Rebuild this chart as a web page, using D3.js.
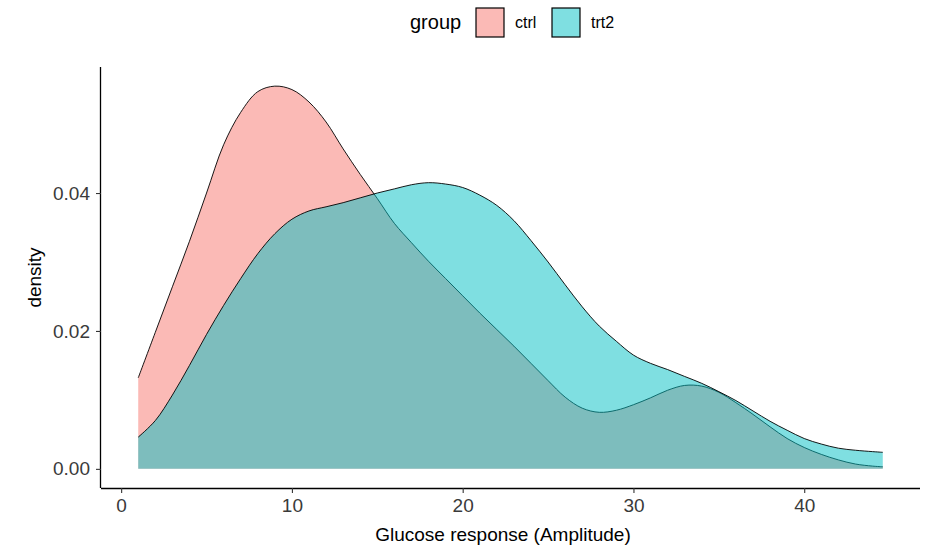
<!DOCTYPE html>
<html>
<head>
<meta charset="utf-8">
<script src="https://cdn.jsdelivr.net/npm/d3@7"></script>
<style>
  body { margin: 0; background: #fff; }
  text { font-family: "Liberation Sans", Arial, sans-serif; }
</style>
</head>
<body>
<div id="chart"></div>
<script>
// amplitude grid the densities were evaluated on
var amplitude = [1, 2, 3, 4, 5, 6, 7, 8, 9, 10, 11, 12, 13, 14, 15, 16, 17, 18, 19, 20, 21, 22,
  23, 24, 25, 26, 27, 28, 29, 30, 31, 32, 33, 34, 35, 36, 37, 38, 39, 40, 41, 42, 43, 44, 44.6]
var ctrlDensity = [0.0132, 0.0198, 0.0264, 0.0330, 0.0400, 0.0470, 0.0517, 0.0547, 0.0555, 0.0550,
  0.0532, 0.0503, 0.0464, 0.0427, 0.0392, 0.0356, 0.0328, 0.0301, 0.0276, 0.0251, 0.0226, 0.0202,
  0.0178, 0.0153, 0.0128, 0.0104, 0.0088, 0.0082, 0.0085, 0.0093, 0.0103, 0.0114, 0.0121, 0.0120,
  0.0111, 0.0096, 0.0079, 0.0061, 0.0044, 0.0031, 0.0021, 0.0013, 0.0007, 0.0004, 0.0003]
var trt2Density = [0.0046, 0.0070, 0.0107, 0.0150, 0.0195, 0.0237, 0.0276, 0.0312, 0.0341, 0.0362,
  0.0374, 0.0380, 0.0386, 0.0393, 0.0400, 0.0406, 0.0412, 0.0415, 0.0413, 0.0408, 0.0397, 0.0382,
  0.0360, 0.0331, 0.0300, 0.0267, 0.0235, 0.0207, 0.0185, 0.0165, 0.0153, 0.0144, 0.0134, 0.0124,
  0.0112, 0.0099, 0.0084, 0.0069, 0.0056, 0.0044, 0.0036, 0.0030, 0.0027, 0.0025, 0.0024]
var groups = ["ctrl", "trt2"]
var groupColors = ["#F8766D", "#00BFC4"]
var xTicks = [0, 10, 20, 30, 40]
var yTicks = [0, 0.02, 0.04]

var width = 935, height = 548
var panel = { left: 101, right: 920, top: 67, bottom: 488 }

var svg = d3.select("#chart").append("svg")
  .attr("width", width).attr("height", height)

var series = [ctrlDensity, trt2Density].map(function (vals, i) {
  return {
    name: groups[i],
    color: groupColors[i],
    points: amplitude.map(function (a, j) { return { x: a, y: vals[j] } })
  }
})

// 5% padding each side like ggplot
var xMin = d3.min(amplitude), xMax = d3.max(amplitude)
var xPad = (xMax - xMin) * 0.05
var x = d3.scaleLinear().domain([xMin - xPad, xMax + xPad]).range([panel.left, panel.right])
var yMax = d3.max(series, function (s) { return d3.max(s.points, function (p) { return p.y }) })
var y = d3.scaleLinear().domain([-yMax * 0.05, yMax * 1.05]).range([panel.bottom, panel.top])

var area = d3.area()
  .x(function (d) { return x(d.x) })
  .y0(y(0))
  .y1(function (d) { return y(d.y) })
  .curve(d3.curveCatmullRom)
var line = d3.line()
  .x(function (d) { return x(d.x) })
  .y(function (d) { return y(d.y) })
  .curve(d3.curveCatmullRom)

//density areas, ctrl first so trt2 sits on top
var g = svg.append("g").attr("class", "densities")
series.forEach(function (s) {
  g.append("path").attr("d", area(s.points))
    .attr("fill", s.color).attr("fill-opacity", 0.5)
  g.append("path").attr("d", line(s.points))
    .attr("fill", "none").attr("stroke", "#000").attr("stroke-width", 0.9)
})

//axes
var xAxis = svg.append("g")
  .attr("transform", "translate(0," + panel.bottom + ")")
  .call(d3.axisBottom(x).tickValues(xTicks).tickSize(5).tickPadding(6).tickFormat(d3.format("d")))
xAxis.select(".domain").attr("d", "M" + panel.left + ",0.5H" + panel.right)
var yAxis = svg.append("g")
  .attr("transform", "translate(" + panel.left + ",0)")
  .call(d3.axisLeft(y).tickValues(yTicks).tickSize(5).tickPadding(6).tickFormat(d3.format(".2f")))
yAxis.select(".domain").attr("d", "M-0.5," + panel.top + "V" + panel.bottom)

;[xAxis, yAxis].forEach(function (ax) {
  ax.select(".domain").attr("stroke", "#000").attr("stroke-width", 1.3)
  ax.selectAll(".tick line").attr("stroke", "#333").attr("stroke-width", 1.1)
  ax.selectAll(".tick text").attr("fill", "#3a3a3a").attr("font-size", 19)
    .attr("font-family", "Liberation Sans, Arial, sans-serif")
})

svg.append("text").text("Glucose response (Amplitude)")
  .attr("x", 503).attr("y", 541)
  .attr("text-anchor", "middle").attr("font-size", 19).attr("fill", "#000")
svg.append("text").text("density")
  .attr("transform", "translate(41," + (panel.top + panel.bottom) / 2 + ") rotate(-90)")
  .attr("text-anchor", "middle").attr("font-size", 19).attr("fill", "#000")

//legend on top
var legend = svg.append("g").attr("class", "legend")
legend.append("text").text("group").attr("x", 410).attr("y", 29)
  .attr("font-size", 20).attr("fill", "#000")
var keyX = [476, 552]
groups.forEach(function (name, i) {
  legend.append("rect").attr("x", keyX[i]).attr("y", 8).attr("width", 28).attr("height", 29)
    .attr("fill", groupColors[i]).attr("fill-opacity", 0.5)
    .attr("stroke", "#000").attr("stroke-width", 1.2)
  legend.append("text").text(name).attr("x", keyX[i] + 39).attr("y", 28)
    .attr("font-size", 16).attr("fill", "#000")
})
</script>
</body>
</html>
